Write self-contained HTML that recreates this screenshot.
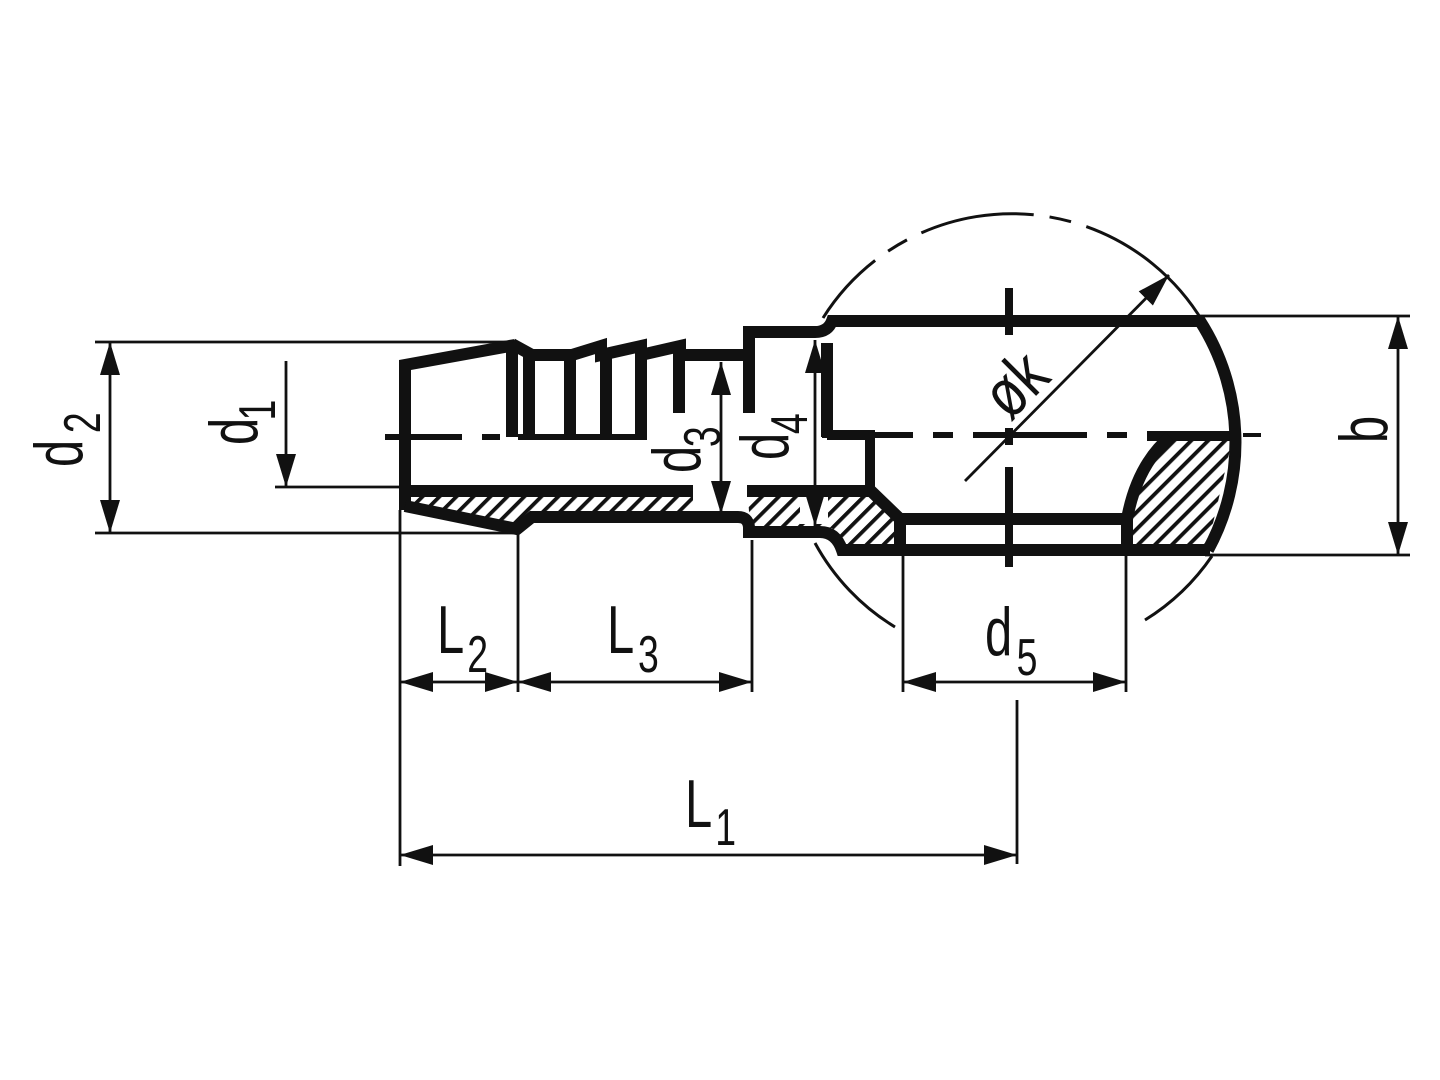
<!DOCTYPE html>
<html><head><meta charset="utf-8"><style>
html,body{margin:0;padding:0;background:#fff;}
svg{display:block;}
text{font-family:"Liberation Sans",sans-serif;fill:#111;}
</style></head><body>
<svg width="1440" height="1080" viewBox="0 0 1440 1080" xmlns="http://www.w3.org/2000/svg">
<defs>
<pattern id="h" width="12" height="12" patternUnits="userSpaceOnUse" patternTransform="rotate(45)">
<rect x="0" y="0" width="3.8" height="12" fill="#111"/>
</pattern>
<marker id="a" markerWidth="34" markerHeight="22" refX="33" refY="11" orient="auto-start-reverse" markerUnits="userSpaceOnUse">
<path d="M0,1 L33,11 L0,21 Z" fill="#111"/>
</marker>
</defs>
<rect width="1440" height="1080" fill="#fff"/>

<!-- hatching -->
<polygon points="410,496 693,496 693,514 530,514 517,527 410,505" fill="url(#h)"/>
<polygon points="748,496 868,496 896,522 896,545 845,545 832,528 750,527" fill="url(#h)"/>
<polygon points="1172,441 1232,441 1208,545 1133,545 1133,515 1145,470" fill="url(#h)"/>
<rect x="696" y="494" width="48" height="22" fill="#fff"/>
<rect x="800" y="494" width="28" height="30" fill="#fff"/>

<g fill="none" stroke="#111" stroke-linejoin="miter" stroke-linecap="butt">
<g stroke-width="3">
<path d="M823,318 A223,223 0 0 1 1203,322" stroke-dasharray="78,16,22,16,115,16,22,16,300"/>
<path d="M815,543 A223,223 0 0 0 895,627"/>
<path d="M1145,620 A223,223 0 0 0 1212,556"/>
</g>
<g stroke-width="2.8">
<line x1="95" y1="342" x2="515" y2="342"/>
<line x1="95" y1="533" x2="517" y2="533"/>
<line x1="275" y1="487" x2="405" y2="487"/>
<line x1="1200" y1="316" x2="1410" y2="316"/>
<line x1="1205" y1="555" x2="1410" y2="555"/>
<line x1="400" y1="510" x2="400" y2="866"/>
<line x1="518" y1="535" x2="518" y2="692"/>
<line x1="752" y1="540" x2="752" y2="692"/>
<line x1="903" y1="555" x2="903" y2="692"/>
<line x1="1126" y1="555" x2="1126" y2="692"/>
<line x1="1017" y1="700" x2="1017" y2="864"/>
<line x1="110" y1="342" x2="110" y2="533" marker-start="url(#a)" marker-end="url(#a)"/>
<line x1="286" y1="361" x2="286" y2="487" marker-end="url(#a)"/>
<line x1="721" y1="362" x2="721" y2="514" marker-start="url(#a)" marker-end="url(#a)"/>
<line x1="815" y1="340" x2="815" y2="526" marker-start="url(#a)" marker-end="url(#a)"/>
<line x1="1398" y1="316" x2="1398" y2="555" marker-start="url(#a)" marker-end="url(#a)"/>
<line x1="400" y1="682" x2="518" y2="682" marker-start="url(#a)" marker-end="url(#a)"/>
<line x1="518" y1="682" x2="752" y2="682" marker-start="url(#a)" marker-end="url(#a)"/>
<line x1="903" y1="682" x2="1126" y2="682" marker-start="url(#a)" marker-end="url(#a)"/>
<line x1="400" y1="855" x2="1017" y2="855" marker-start="url(#a)" marker-end="url(#a)"/>
<line x1="965" y1="481" x2="1169" y2="275" marker-end="url(#a)"/>
</g>
<g stroke-width="6">
<line x1="385" y1="437" x2="462" y2="437"/>
<line x1="482" y1="437" x2="500" y2="437"/>
<line x1="518" y1="437" x2="647" y2="437"/>
<line x1="822" y1="435" x2="913" y2="435"/>
<line x1="933" y1="435" x2="953" y2="435"/>
<line x1="973" y1="435" x2="1087" y2="435"/>
<line x1="1107" y1="435" x2="1127" y2="435"/>
<line x1="1147" y1="436" x2="1236" y2="436" stroke-width="10"/>
<line x1="1243" y1="435" x2="1261" y2="435" stroke-width="4"/>
<line x1="1009" y1="288" x2="1009" y2="335" stroke-width="8"/>
<line x1="1009" y1="428" x2="1009" y2="445" stroke-width="8"/>
<line x1="1009" y1="467" x2="1009" y2="567" stroke-width="8"/>
</g>
<g stroke-width="12">
<path d="M405,510 L405,365 L515,345"/>
<polyline points="512,344 532,355 572,355 601,346 601,355 641,346 641,355 680,346 680,355 749,355"/>
<line x1="512" y1="343" x2="512" y2="437"/>
<line x1="529" y1="352" x2="529" y2="437"/>
<line x1="570" y1="352" x2="570" y2="437"/>
<line x1="606" y1="352" x2="606" y2="437"/>
<line x1="641" y1="352" x2="641" y2="437"/>
<line x1="679" y1="350" x2="679" y2="413"/>
<path d="M749,413 L749,332 L815,332 Q828,332 832,321 L1200,321 A225,225 0 0 1 1208,550"/>
<line x1="827" y1="343" x2="827" y2="437"/>
<line x1="405" y1="491" x2="693" y2="491"/>
<path d="M747,491 L871,491 L900,519 L1127,519 Q1137,465 1170,437"/>
<path d="M827,435 L870,435 L870,492" stroke-width="10"/>
<path d="M405,506 L517,529 L532,517 L738,517 Q748,517 749,527 L749,532 L820,532 Q836,532 842,550 L1210,550"/>
<line x1="900" y1="519" x2="900" y2="550"/>
<line x1="1127" y1="519" x2="1127" y2="550"/>
</g>
</g>

<g font-size="68">
<g transform="translate(82,467) rotate(-90) scale(0.72,1)"><text x="0" y="0">d</text><text x="47" y="18" font-size="52">2</text></g>
<g transform="translate(257,445) rotate(-90) scale(0.72,1)"><text x="0" y="0">d</text><text x="34" y="18" font-size="52">1</text></g>
<g transform="translate(700,473) rotate(-90) scale(0.72,1)"><text x="0" y="0">d</text><text x="36" y="20" font-size="52">3</text></g>
<g transform="translate(788,460) rotate(-90) scale(0.72,1)"><text x="0" y="0">d</text><text x="36" y="19" font-size="52">4</text></g>
<g transform="translate(1387,443) rotate(-90) scale(0.72,1)"><text x="0" y="0">b</text></g>
<g transform="translate(437,653) scale(0.72,1)"><text x="0" y="0">L</text><text x="42" y="19" font-size="52">2</text></g>
<g transform="translate(607,653) scale(0.72,1)"><text x="0" y="0">L</text><text x="43" y="19" font-size="52">3</text></g>
<g transform="translate(985,655) scale(0.72,1)"><text x="0" y="0">d</text><text x="44" y="20" font-size="52">5</text></g>
<g transform="translate(685,827) scale(0.72,1)"><text x="0" y="0">L</text><text x="42" y="18" font-size="52">1</text></g>
<g transform="translate(1010,422) rotate(-45) scale(0.8,1)"><text x="0" y="0" font-size="68">øk</text></g>
</g>
</svg>
</body></html>
